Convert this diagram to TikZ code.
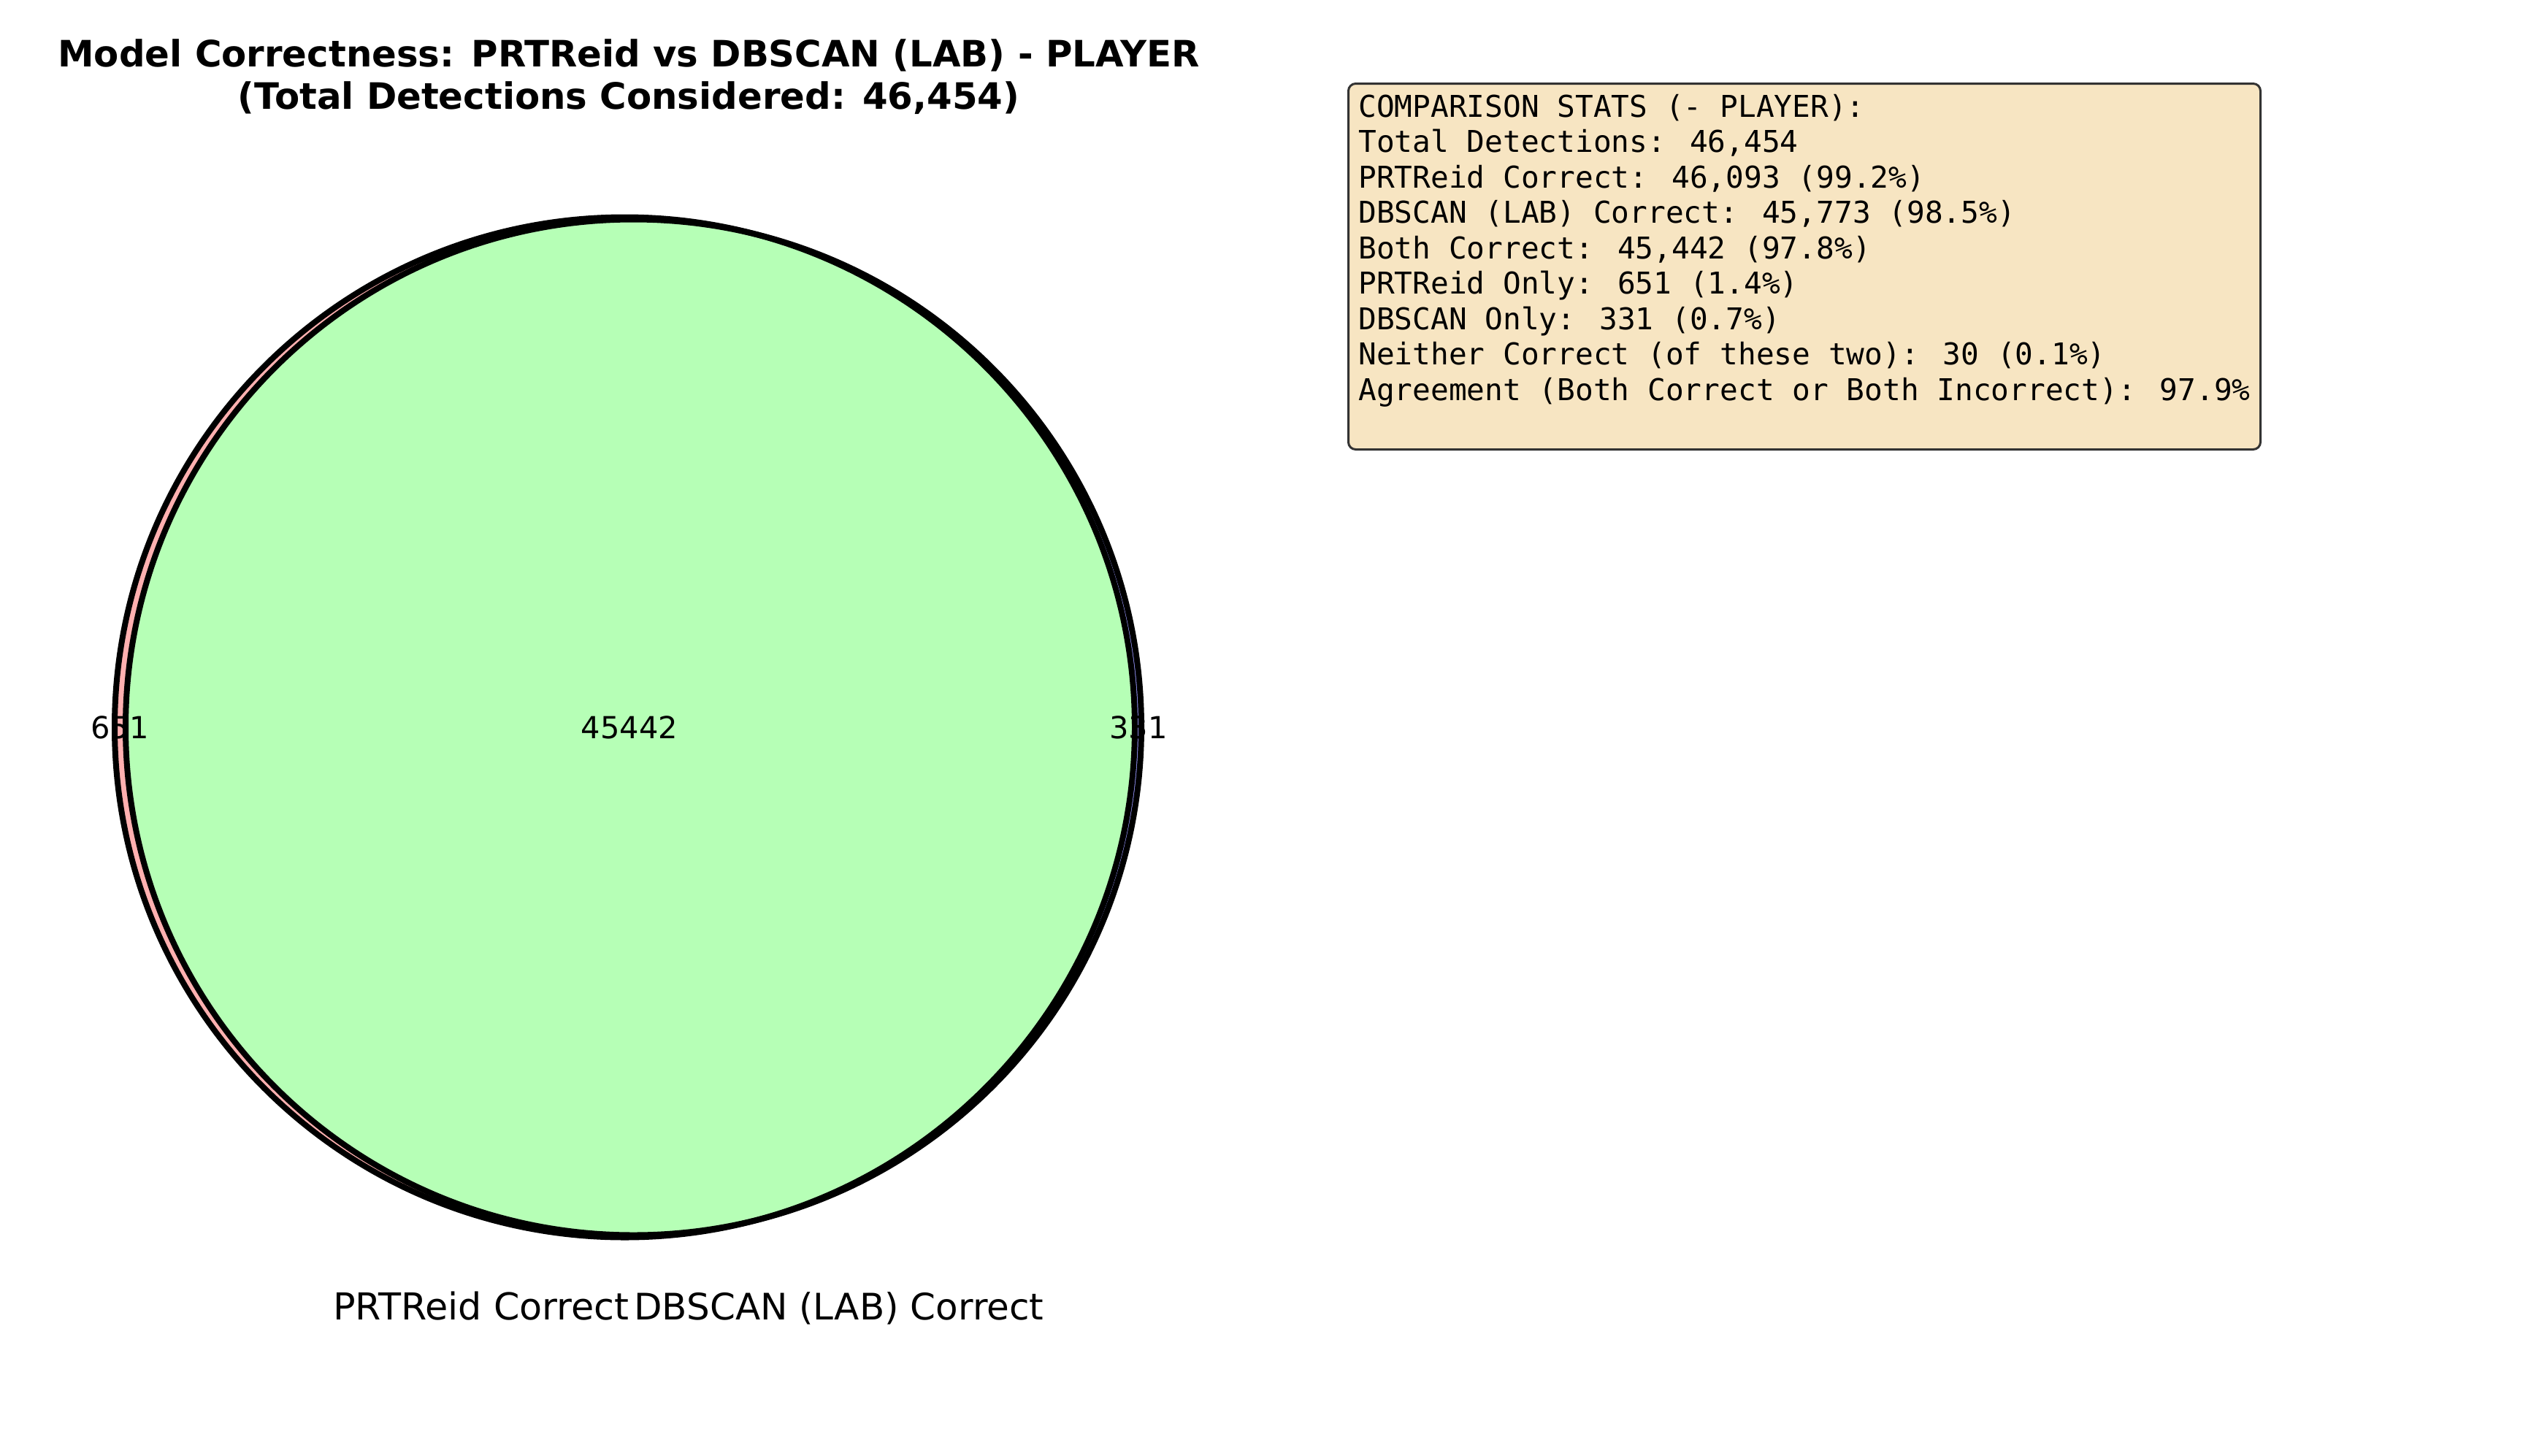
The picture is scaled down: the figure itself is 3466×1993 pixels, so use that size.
\documentclass[tikz,border=0pt]{standalone}
\usepackage{fontspec}
\setmainfont{DejaVu Sans}
\newfontfamily\statsmono{DejaVu Sans Mono}
\definecolor{aonly}{RGB}{255,176,176}
\definecolor{bonly}{RGB}{153,153,255}
\definecolor{both}{RGB}{182,255,182}
\definecolor{boxfill}{RGB}{247,229,194}
\definecolor{boxedge}{RGB}{51,51,51}
\tikzset{
  titletxt/.style={font=\fontsize{24.9pt}{29pt}\selectfont\bfseries, inner sep=0pt, anchor=base},
  setlbl/.style={font=\fontsize{25.4pt}{30pt}\selectfont, inner sep=0pt},
  sublbl/.style={font=\fontsize{20.8pt}{24pt}\selectfont, inner sep=0pt, anchor=base},
  statline/.style={font=\statsmono\fontsize{20.56pt}{24pt}\selectfont, inner sep=0pt, anchor=base west},
  outline/.style={draw=black, line width=4pt},
}
\begin{document}
\begin{tikzpicture}[x=0.5pt, y=-0.5pt]
\useasboundingbox (0,0) rectangle (3466,1993);
% centres
\coordinate (ca) at (855.5,996);
\coordinate (cb) at (867.5,996);
% region fills
\fill[aonly] (ca) circle[radius=698.5];
\fill[bonly] (cb) circle[radius=695.5];
\begin{scope}
  \clip (ca) circle[radius=698.5];
  \fill[both] (cb) circle[radius=695.5];
\end{scope}
% outlines
\draw[outline] (ca) circle[radius=698.5];
\draw[outline] (cb) circle[radius=695.5];
% subset labels
\node[sublbl] (lblA) at (164,1011) {651};
\node[sublbl] (lblAB) at (862,1011) {45442};
\node[sublbl] (lblB) at (1559,1011) {331};
% set labels
\node[setlbl, anchor=base east] (setA) at (862,1807) {PRTReid Correct};
\node[setlbl, anchor=base west, font=\fontsize{25pt}{30pt}\selectfont] (setB) at (868,1807) {DBSCAN (LAB) Correct};
% title
\node[titletxt] (title1) at (861,91) {Model Correctness: PRTReid vs DBSCAN (LAB) - PLAYER};
\node[titletxt] (title2) at (861,149) {(Total Detections Considered: 46,454)};
% stats box
\node[draw=boxedge, fill=boxfill, line width=1.5pt, rounded corners=5pt,
      minimum width=624.5pt, minimum height=250.5pt, inner sep=0pt] (statsbox) at (2471,365) {};
\node[statline] (s1) at (1860,160) {COMPARISON STATS (- PLAYER):};
\node[statline] (s2) at (1860,208.5) {Total Detections: 46,454};
\node[statline] (s3) at (1860,257) {PRTReid Correct: 46,093 (99.2\%)};
\node[statline] (s4) at (1860,305.5) {DBSCAN (LAB) Correct: 45,773 (98.5\%)};
\node[statline] (s5) at (1860,354) {Both Correct: 45,442 (97.8\%)};
\node[statline] (s6) at (1860,402.5) {PRTReid Only: 651 (1.4\%)};
\node[statline] (s7) at (1860,451) {DBSCAN Only: 331 (0.7\%)};
\node[statline] (s8) at (1860,499.5) {Neither Correct (of these two): 30 (0.1\%)};
\node[statline] (s9) at (1860,548) {Agreement (Both Correct or Both Incorrect): 97.9\%};
\end{tikzpicture}
\end{document}
